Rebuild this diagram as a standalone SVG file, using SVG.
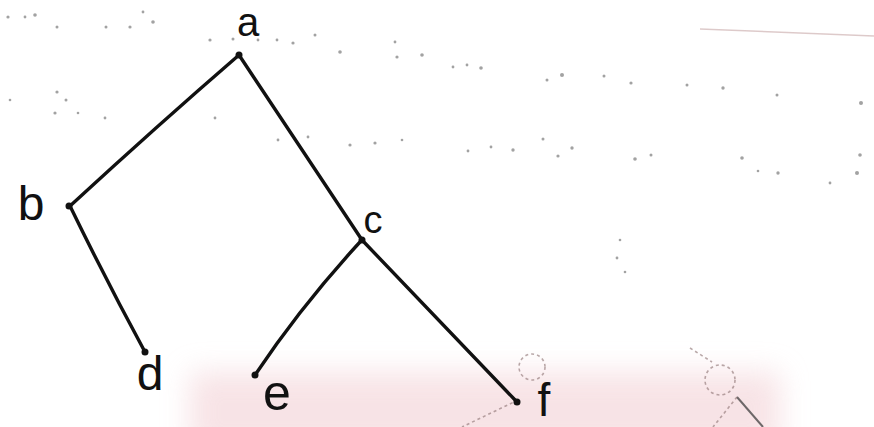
<svg xmlns="http://www.w3.org/2000/svg" width="874" height="427" viewBox="0 0 874 427">
<defs>
<filter id="blur" x="-20%" y="-50%" width="140%" height="200%"><feGaussianBlur stdDeviation="14"/></filter>
<style>
.lbl{font-family:"Liberation Sans","DejaVu Sans",sans-serif;fill:#111;text-anchor:middle}
.edge{fill:none;stroke:#111;stroke-width:3.4;stroke-linecap:round}
.dot{fill:#111}
.faint{fill:#555;opacity:0.55}
.ghost{fill:none;stroke:#8a7070;stroke-width:1.6;stroke-dasharray:3 3;opacity:0.6}
</style>
</defs>
<rect width="874" height="427" fill="#ffffff"/>
<g id="paper-tint">
<rect x="190" y="372" width="590" height="80" fill="#f4d8dc" opacity="0.7" filter="url(#blur)"/>
</g>
<g id="bleed-through">
<line x1="700" y1="29" x2="874" y2="36" stroke="#c8a8a8" stroke-width="1.5" opacity="0.6"/>
<circle class="faint" cx="8" cy="17" r="1.6"/><circle class="faint" cx="25" cy="17" r="1.4"/><circle class="faint" cx="35" cy="15" r="1.8"/>
<circle class="faint" cx="57" cy="27" r="1.5"/><circle class="faint" cx="106" cy="27" r="1.5"/><circle class="faint" cx="130" cy="27" r="1.6"/>
<circle class="faint" cx="143" cy="12" r="1.4"/><circle class="faint" cx="153" cy="22" r="1.8"/><circle class="faint" cx="210" cy="40" r="1.6"/>
<circle class="faint" cx="233" cy="39" r="1.5"/><circle class="faint" cx="258" cy="40" r="1.4"/><circle class="faint" cx="277" cy="40" r="1.4"/>
<circle class="faint" cx="293" cy="43" r="1.6"/><circle class="faint" cx="315" cy="35" r="1.5"/><circle class="faint" cx="340" cy="52" r="1.8"/>
<circle class="faint" cx="395" cy="42" r="1.4"/><circle class="faint" cx="397" cy="57" r="1.6"/><circle class="faint" cx="422" cy="55" r="1.8"/>
<circle class="faint" cx="10" cy="100" r="1.3"/><circle class="faint" cx="57" cy="92" r="1.6"/><circle class="faint" cx="66" cy="100" r="1.5"/>
<circle class="faint" cx="55" cy="113" r="1.6"/><circle class="faint" cx="78" cy="113" r="1.3"/><circle class="faint" cx="105" cy="118" r="1.4"/>
<circle class="faint" cx="215" cy="118" r="1.4"/><circle class="faint" cx="278" cy="140" r="1.4"/><circle class="faint" cx="308" cy="137" r="1.4"/>
<circle class="faint" cx="350" cy="145" r="1.6"/><circle class="faint" cx="375" cy="143" r="1.6"/><circle class="faint" cx="402" cy="140" r="1.3"/>
<circle class="faint" cx="453" cy="67" r="1.4"/><circle class="faint" cx="467" cy="65" r="1.4"/><circle class="faint" cx="481" cy="68" r="1.8"/>
<circle class="faint" cx="547" cy="80" r="1.5"/><circle class="faint" cx="562" cy="75" r="2"/><circle class="faint" cx="604" cy="76" r="1.5"/>
<circle class="faint" cx="631" cy="83" r="1.6"/><circle class="faint" cx="687" cy="85" r="1.5"/><circle class="faint" cx="723" cy="88" r="1.7"/>
<circle class="faint" cx="777" cy="95" r="1.5"/><circle class="faint" cx="861" cy="103" r="2"/><circle class="faint" cx="468" cy="151" r="1.4"/>
<circle class="faint" cx="491" cy="147" r="1.4"/><circle class="faint" cx="513" cy="150" r="1.7"/><circle class="faint" cx="543" cy="139" r="1.5"/>
<circle class="faint" cx="558" cy="156" r="1.6"/><circle class="faint" cx="572" cy="148" r="1.7"/><circle class="faint" cx="635" cy="159" r="1.8"/>
<circle class="faint" cx="651" cy="155" r="1.5"/><circle class="faint" cx="742" cy="158" r="1.8"/><circle class="faint" cx="758" cy="171" r="1.3"/>
<circle class="faint" cx="778" cy="173" r="1.7"/><circle class="faint" cx="860" cy="155" r="1.8"/><circle class="faint" cx="857" cy="173" r="2"/>
<circle class="faint" cx="830" cy="183" r="1.4"/><circle class="faint" cx="620" cy="240" r="1.3"/><circle class="faint" cx="617" cy="258" r="1.4"/>
<circle class="faint" cx="625" cy="272" r="1.3"/>
<circle class="ghost" cx="532" cy="367" r="13"/>
<circle class="ghost" cx="720" cy="380" r="15"/>
<line class="ghost" x1="518" y1="400" x2="462" y2="427"/>
<line x1="737" y1="397" x2="763" y2="427" stroke="#333" stroke-width="2" opacity="0.7"/>
<line class="ghost" x1="737" y1="397" x2="713" y2="427"/>
<line class="ghost" x1="690" y1="348" x2="712" y2="362"/>
</g>
<g id="connectors">
<path class="edge" d="M239,55 Q158,125 70,206"/>
<path class="edge" d="M239,55 Q302,150 362,240"/>
<path class="edge" d="M70,206 Q106,280 145,352"/>
<path class="edge" d="M360,242 Q302,305 255,375"/>
<path class="edge" d="M362,240 L517,402"/>
</g>
<g id="node-a"><circle class="dot" cx="239" cy="55" r="3.5"/><text class="lbl" x="248" y="36" font-size="40">a</text></g>
<g id="node-b"><circle class="dot" cx="69" cy="206" r="3.5"/><text class="lbl" x="31" y="220" font-size="48">b</text></g>
<g id="node-c"><circle class="dot" cx="362" cy="240" r="3.5"/><text class="lbl" x="373" y="233" font-size="38">c</text></g>
<g id="node-d"><circle class="dot" cx="145" cy="352" r="3.5"/><text class="lbl" x="150" y="390" font-size="48">d</text></g>
<g id="node-e"><circle class="dot" cx="255" cy="375" r="3.5"/><text class="lbl" x="277" y="410" font-size="50">e</text></g>
<g id="node-f"><circle class="dot" cx="517" cy="402" r="3.5"/><text class="lbl" x="544" y="416" font-size="46">f</text></g>
</svg>
